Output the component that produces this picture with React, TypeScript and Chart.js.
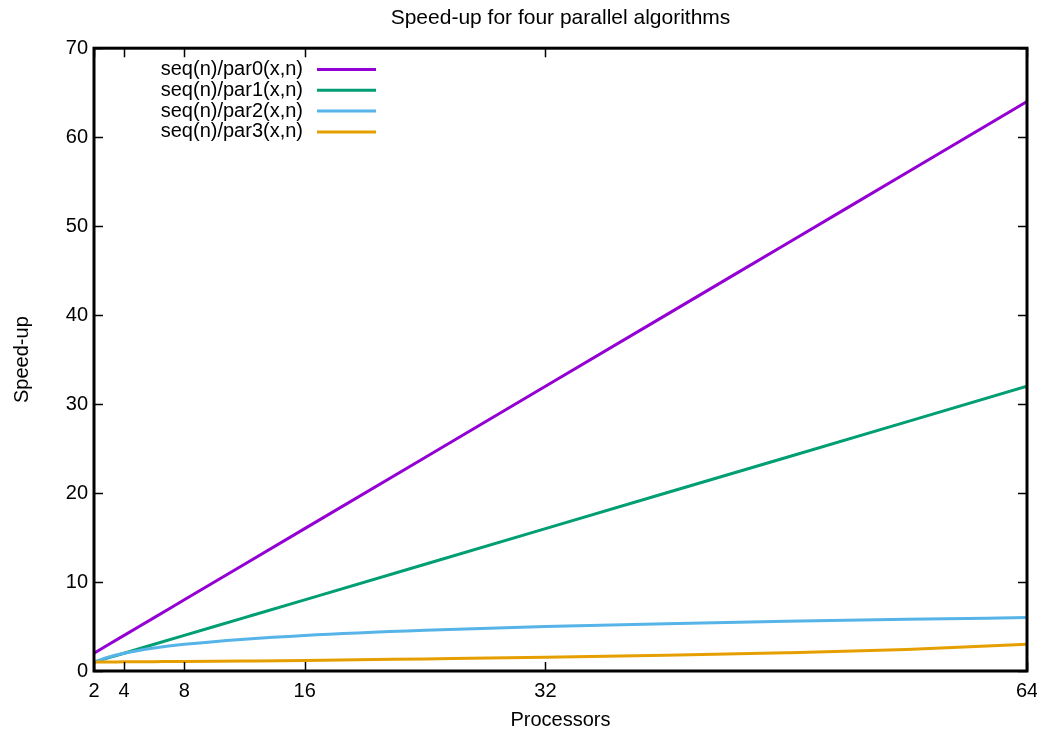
import React, { useEffect, useRef } from "react";
import { Chart, registerables } from "chart.js";

Chart.register(...registerables);

const processors = [2, 3, 4, 6, 8, 12, 16, 24, 32, 40, 48, 56, 64];
const par0 = [2, 3, 4, 6, 8, 12, 16, 24, 32, 40, 48, 56, 64];
const par1 = [1, 1.5, 2, 3, 4, 6, 8, 12, 16, 20, 24, 28, 32];
const par2 = [1, 1.58, 2, 2.58, 3, 3.58, 4, 4.58, 5, 5.32, 5.58, 5.81, 6];
const par3 = [1.0, 1.01, 1.03, 1.05, 1.07, 1.12, 1.18, 1.36, 1.55, 1.78, 2.05, 2.42, 3.0];
const seriesLabels = ["seq(n)/par0(x,n)", "seq(n)/par1(x,n)", "seq(n)/par2(x,n)", "seq(n)/par3(x,n)"];
const seriesColors = ["#9400d3", "#009e73", "#56b4e9", "#e69f00"];
const xTicks = [2, 4, 8, 16, 32, 64];
const FONT = "'Liberation Sans', Arial, Helvetica, sans-serif";

const framePlugin = {
  id: "frameTicks",
  afterDraw(chart: any) {
    const ctx = chart.ctx;
    const { left, right, top, bottom } = chart.chartArea;
    const xs = chart.scales.x;
    const ys = chart.scales.y;
    ctx.save();
    ctx.strokeStyle = "#000";
    ctx.lineWidth = 1.5;
    const tl = 9;
    ctx.beginPath();
    xs.ticks.forEach((t: any) => {
      const px = Math.round(xs.getPixelForValue(t.value)) + 0.5;
      ctx.moveTo(px, bottom);
      ctx.lineTo(px, bottom - tl);
      ctx.moveTo(px, top);
      ctx.lineTo(px, top + tl);
    });
    ys.ticks.forEach((t: any) => {
      const py = Math.round(ys.getPixelForValue(t.value)) + 0.5;
      ctx.moveTo(left, py);
      ctx.lineTo(left + tl, py);
      ctx.moveTo(right, py);
      ctx.lineTo(right - tl, py);
    });
    ctx.stroke();
    ctx.lineWidth = 3;
    ctx.strokeRect(left, top, right - left, bottom - top);

    // legend (gnuplot style: text right-aligned, sample to the right)
    ctx.font = `20px ${FONT}`;
    ctx.textAlign = "right";
    ctx.textBaseline = "middle";
    const textRight = 303;
    const y0 = 69.5;
    const dy = 20.8;
    seriesLabels.forEach((lab, i) => {
      const y = y0 + i * dy;
      ctx.fillStyle = "#000";
      ctx.fillText(lab, textRight, y);
      ctx.strokeStyle = seriesColors[i];
      ctx.lineWidth = 3;
      ctx.beginPath();
      ctx.moveTo(317, y);
      ctx.lineTo(376, y);
      ctx.stroke();
    });
    ctx.restore();
  },
};

export default function App() {
  const ref = useRef<HTMLCanvasElement>(null);
  useEffect(() => {
    const series = [par0, par1, par2, par3];
    const chart = new Chart(ref.current as HTMLCanvasElement, {
      type: "line",
      data: {
        datasets: series.map((vals, i) => ({
          label: seriesLabels[i],
          data: processors.map((x, j) => ({ x, y: vals[j] })),
          borderColor: seriesColors[i],
          backgroundColor: seriesColors[i],
          borderWidth: 3,
          pointRadius: 0,
          fill: false,
          cubicInterpolationMode: "monotone" as const,
          order: 3 - i,
        })),
      },
      options: {
        responsive: false,
        animation: false,
        layout: { padding: { left: 0, right: 10, top: 0, bottom: 0 } },
        plugins: {
          legend: { display: false },
          tooltip: { enabled: false },
          title: {
            display: true,
            fullSize: false,
            text: "Speed-up for four parallel algorithms",
            color: "#000",
            font: { family: FONT, size: 21, weight: "normal" },
            padding: { top: 6, bottom: 17 },
          },
        },
        scales: {
          x: {
            type: "linear",
            min: 2,
            max: 64,
            grid: { display: false, drawTicks: false },
            border: { display: false },
            afterBuildTicks: (scale: any) => {
              scale.ticks = xTicks.map((v) => ({ value: v }));
            },
            afterFit: (scale: any) => {
              scale.height = 61;
              scale.paddingLeft = 0;
              scale.paddingRight = 0;
            },
            ticks: {
              color: "#000",
              font: { family: FONT, size: 20 },
              padding: 8,
              maxRotation: 0,
              autoSkip: false,
              callback: (v: any) => String(v),
            },
            title: {
              display: true,
              text: "Processors",
              color: "#000",
              font: { family: FONT, size: 20 },
              padding: { top: 0, bottom: 0 },
            },
          },
          y: {
            min: 0,
            max: 70,
            grid: { display: false, drawTicks: false },
            border: { display: false },
            afterFit: (scale: any) => {
              scale.width = 94;
              scale.paddingTop = 0;
              scale.paddingBottom = 0;
            },
            ticks: {
              stepSize: 10,
              color: "#000",
              font: { family: FONT, size: 20 },
              padding: 6,
            },
            title: {
              display: true,
              text: "Speed-up",
              color: "#000",
              font: { family: FONT, size: 20 },
              padding: { top: 10, bottom: 0 },
            },
          },
        },
      },
      plugins: [framePlugin],
    } as any);
    return () => chart.destroy();
  }, []);
  return (
    <div style={{ position: "absolute", left: 0, top: 0, width: 1037, height: 732, background: "#fff" }}>
      <canvas ref={ref} width={1037} height={732} style={{ display: "block" }} />
    </div>
  );
}
